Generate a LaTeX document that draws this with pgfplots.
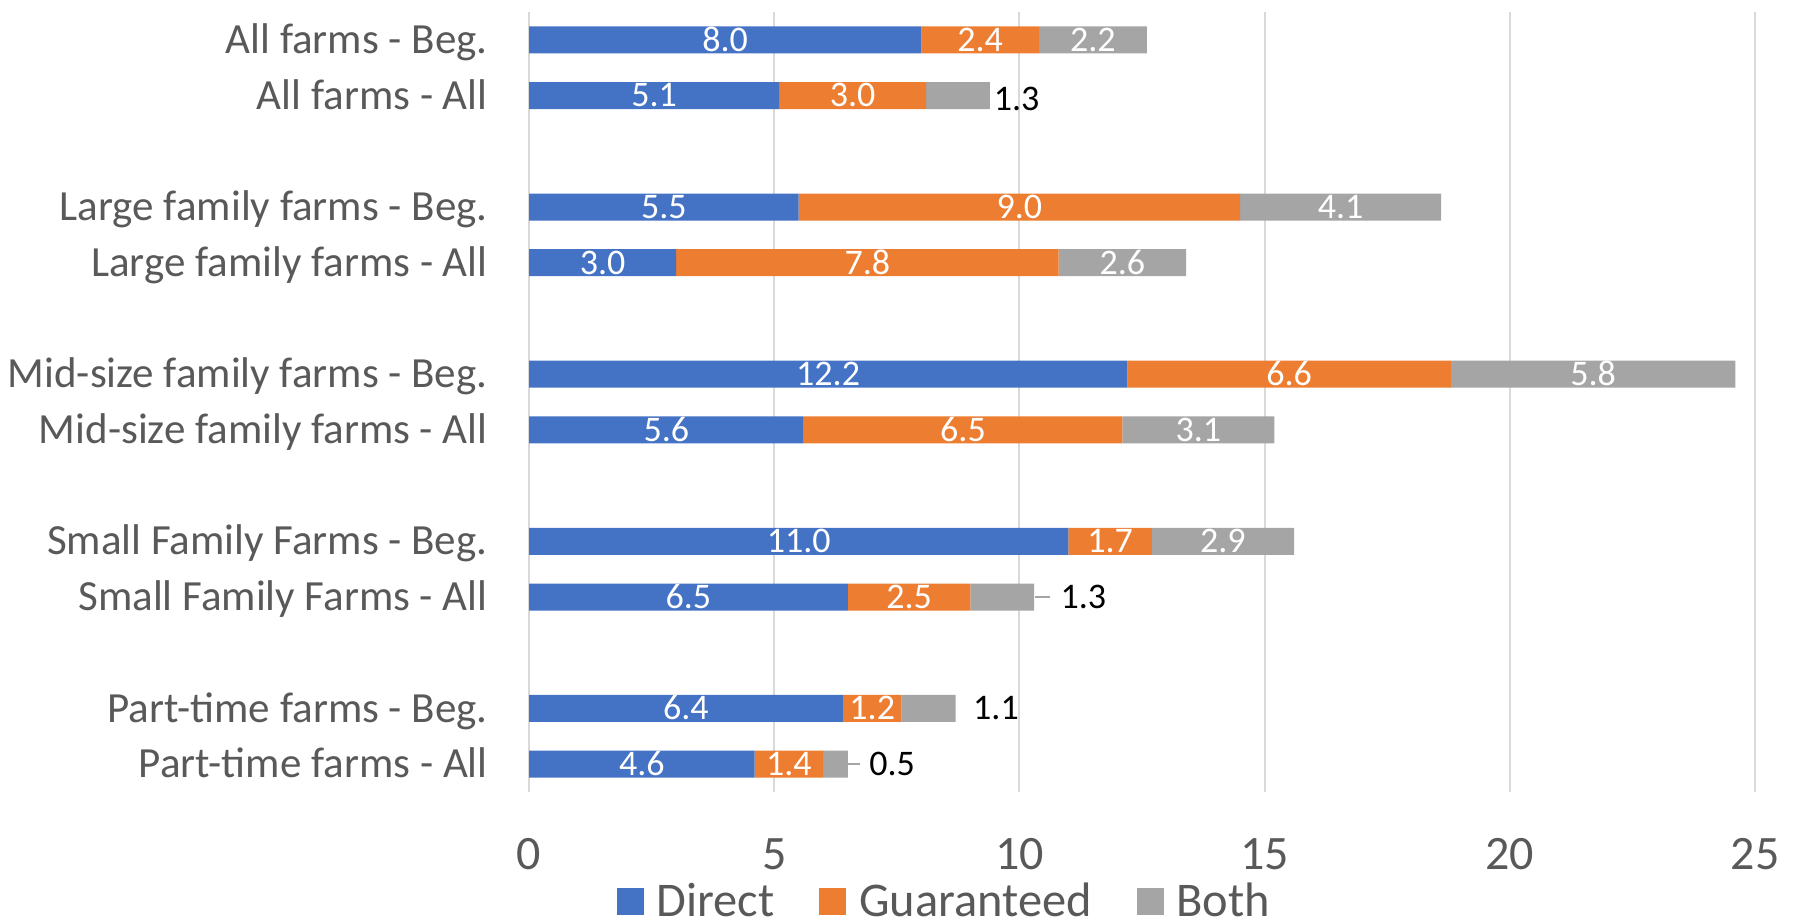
\documentclass[border=0pt]{standalone}
\usepackage{fontspec}
\setmainfont{Carlito}
\usepackage{pgfplots}
\usepackage{pgfplotstable}
\pgfplotsset{compat=1.18}
\pgfkeys{/pgf/number format/assume math mode=true}
\definecolor{cDirect}{HTML}{4472C4}
\definecolor{cGuar}{HTML}{ED7D31}
\definecolor{cBoth}{HTML}{A5A5A5}
\definecolor{cGrid}{HTML}{D9D9D9}
\definecolor{cText}{HTML}{595959}

\pgfplotstableread{
row direct guar both
0 8.0 2.4 2.2
1 5.1 3.0 1.3
3 5.5 9.0 4.1
4 3.0 7.8 2.6
6 12.2 6.6 5.8
7 5.6 6.5 3.1
9 11.0 1.7 2.9
10 6.5 2.5 1.3
12 6.4 1.2 1.1
13 4.6 1.4 0.5
}\farmdata

\pgfplotstableread{
x y lab
9.47 1.07 1.3
10.83 10 1.3
9.05 12 1.1
6.93 13 0.5
}\outlabels

\begin{document}
\begin{tikzpicture}[x=1pt,y=1pt]
\pgfplotsset{
  common/.style={
    at={(264.5pt,64.5pt)}, anchor=south west,
    scale only axis, width=613pt, height=390pt,
    xmin=0, xmax=25, ymin=-0.5, ymax=13.5, y dir=reverse,
  },
  inlab/.style={
    nodes near coords={\ifdim\rawx pt<1.0pt\relax\else\pgfmathprintnumber[fixed,fixed zerofill,precision=1]{\rawx}\fi},
    visualization depends on={rawx \as \rawx},
  },
  bothlab/.style={
    nodes near coords={\ifdim\rawx pt<2pt\relax\else\pgfmathprintnumber[fixed,fixed zerofill,precision=1]{\rawx}\fi},
    visualization depends on={rawx \as \rawx},
  },
  sqleg/.style={legend image code/.code={\fill[##1,draw=none] (0pt,-6.75pt) rectangle (13.5pt,6.75pt);}},
}
\begin{axis}[common,
  xbar stacked, bar width=13.5pt,
  axis line style={draw=none},
  major tick length=0pt,
  xtick={0,5,10,15,20,25},
  ytick={0,1,3,4,6,7,9,10,12,13},
  yticklabels={All farms - Beg., All farms - All, Large family farms - Beg., Large family farms - All, Mid-size family farms - Beg., Mid-size family farms - All, Small Family Farms - Beg., Small Family Farms - All, Part-time farms - Beg., Part-time farms - All},
  xmajorgrids, major grid style={cGrid, line width=1pt},
  yticklabel style={font=\fontsize{21.5}{21.5}\selectfont, text=cText, anchor=east, inner sep=0pt, text height=13.6pt, text depth=0pt, xshift=-20.5pt},
  xticklabel style={font=\fontsize{24}{24}\selectfont, text=cText, anchor=north, inner sep=0pt, yshift=-23pt},
  nodes near coords style={anchor=center, white, font=\fontsize{18}{18}\selectfont,
      inner sep=0pt, text height=11.4pt, text depth=0pt},
  legend style={at={(0.338,-0.1405)}, anchor=center, draw=none, fill=none,
    legend columns=3, font=\fontsize{24.2}{24.2}\selectfont, text=cText,
    nodes={inner sep=0pt, text height=15.3pt, text depth=0pt},
    /tikz/every odd column/.append style={column sep=6.5pt},
    /tikz/every even column/.append style={column sep=22.4pt}},
]
\addplot[fill=cDirect, draw=none, sqleg, inlab] table[x=direct, y=row] {\farmdata};
\addlegendentry{Direct}
\addplot[fill=cGuar, draw=none, sqleg, inlab] table[x=guar, y=row] {\farmdata};
\addlegendentry{Guaranteed}
\addplot[fill=cBoth, draw=none, sqleg, bothlab] table[x=both, y=row] {\farmdata};
\addlegendentry{Both}
\end{axis}
\begin{axis}[common, hide axis]
\addplot[cBoth, line width=1pt, forget plot] coordinates {(10.31,10) (10.62,10)};
\addplot[cBoth, line width=1pt, forget plot] coordinates {(6.5,13) (6.74,13)};
\addplot[draw=none, mark=none, nodes near coords, point meta=explicit symbolic,
  every node near coord/.append style={anchor=west, black, inner sep=0pt,
    font=\fontsize{18}{18}\selectfont, text height=11.4pt, text depth=0pt}]
  table[x=x, y=y, meta=lab] {\outlabels};
\end{axis}
\pgfresetboundingbox
\useasboundingbox (0,0) rectangle (899.5,460.5);
\end{tikzpicture}
\end{document}
